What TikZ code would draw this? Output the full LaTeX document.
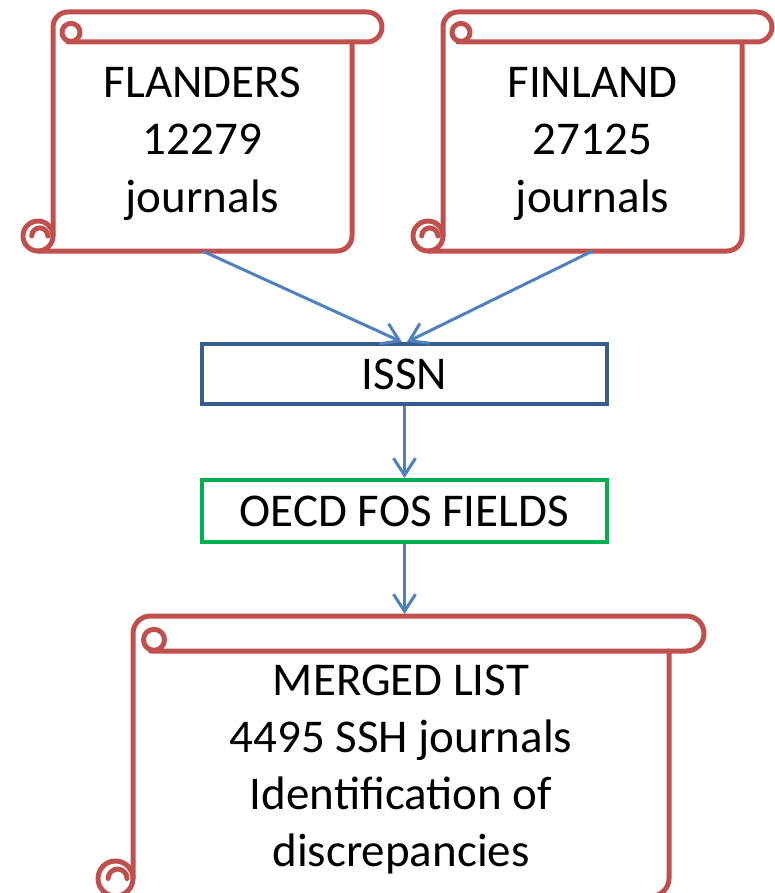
\documentclass[tikz,border=0pt]{standalone}
\usepackage{fontspec}
\setmainfont{Carlito}
\usetikzlibrary{arrows.meta}

\definecolor{scrollred}{HTML}{C0504D}
\definecolor{arrowblue}{HTML}{4F81BD}
\definecolor{boxblue}{HTML}{385D8A}
\definecolor{boxgreen}{HTML}{00B050}

\tikzset{
  scrollline/.style={draw=scrollred, line width=5pt, line join=round, line cap=round},
  txt/.style={font=\fontsize{47}{57}\selectfont, inner sep=0pt, anchor=base},
  flowbox/.style={draw, line width=4pt, inner sep=0pt, minimum width=405pt,
                  font=\fontsize{47}{57}\selectfont},
  arr/.style={draw=arrowblue, line width=3pt,
              -{Straight Barb[length=17pt,width=22pt]}},
}

% Horizontal scroll: #1 left, #2 top, #3 right, #4 bottom (y measured downward), #5 roll height
\newcommand\drawscroll[5]{%
  \pgfmathsetmacro\scrL{#1}%
  \pgfmathsetmacro\scrT{-(#2)}%
  \pgfmathsetmacro\scrR{#3}%
  \pgfmathsetmacro\scrB{-(#4)}%
  \pgfmathsetmacro\scrC{#5}%
  \pgfmathsetmacro\scrH{#5/2}%
  % left edge of the sheet and the upper roll
  \draw[scrollline] ({\scrL+\scrC},{\scrB+\scrH}) -- ({\scrL+\scrC},{\scrT-\scrH})
    arc[start angle=180, end angle=90, radius=\scrH]
    -- ({\scrR-\scrH},\scrT)
    arc[start angle=90, end angle=-90, radius=\scrH]
    -- ({\scrL+\scrC+\scrH},{\scrT-\scrC});
  % right edge and bottom of the sheet
  \draw[scrollline] ({\scrR-\scrC},{\scrT-\scrC}) -- ({\scrR-\scrC},{\scrB+\scrH})
    arc[start angle=0, end angle=-90, radius=\scrH]
    -- ({\scrL+\scrH},\scrB);
  % lower curl
  \draw[scrollline] ({\scrL+\scrH},{\scrB+\scrH}) circle[radius=\scrH];
  \draw[scrollline] ({\scrL+\scrH-0.21*\scrC},{\scrB+\scrH})
    arc[start angle=180, end angle=0, radius={0.27*\scrC}];
  % upper curl
  \draw[scrollline] ({\scrL+\scrC+\scrH+0.1*\scrC},{\scrT-0.68*\scrC}) circle[radius={0.3*\scrC}];
}

\begin{document}
\begin{tikzpicture}[x=1pt, y=1pt]
  \useasboundingbox (0,0) rectangle (774,-893);

  % source lists
  \drawscroll{23}{12}{382}{251}{30}
  \node[txt] (fl1) at (202.5,-97.5)  {FLANDERS};
  \node[txt] (fl2) at (202.5,-155)   {12279};
  \node[txt] (fl3) at (202.5,-212.5) {journals};
  \coordinate (flbot) at (202.5,-251);

  \drawscroll{413}{12}{772}{251}{30}
  \node[txt] (fi1) at (592.5,-97.5)  {FINLAND};
  \node[txt] (fi2) at (592.5,-155)   {27125};
  \node[txt] (fi3) at (592.5,-212.5) {journals};
  \coordinate (fibot) at (592.5,-251);

  % matching steps
  \node[flowbox, draw=boxblue,  minimum height=60pt] (issn) at (404.5,-374) {ISSN};
  \node[flowbox, draw=boxgreen, minimum height=62pt] (oecd) at (404.5,-511) {OECD FOS FIELDS};

  % merged result
  \drawscroll{98}{616}{704}{896}{35}
  \node[txt] (mg1) at (401,-695)   {MERGED LIST};
  \node[txt] (mg2) at (401,-752.3) {4495 SSH journals};
  \node[txt] (mg3) at (401,-809.5) {Identification of};
  \node[txt] (mg4) at (401,-866.7) {discrepancies};
  \coordinate (mgtop) at (404.5,-614);

  % connectors
  \draw[arr] (flbot) -- ([xshift=-2.5pt]issn.north);
  \draw[arr] (fibot) -- ([xshift=2.5pt]issn.north);
  \draw[arr] (issn.south) -- (oecd.north);
  \draw[arr] (oecd.south) -- (mgtop);
\end{tikzpicture}
\end{document}
